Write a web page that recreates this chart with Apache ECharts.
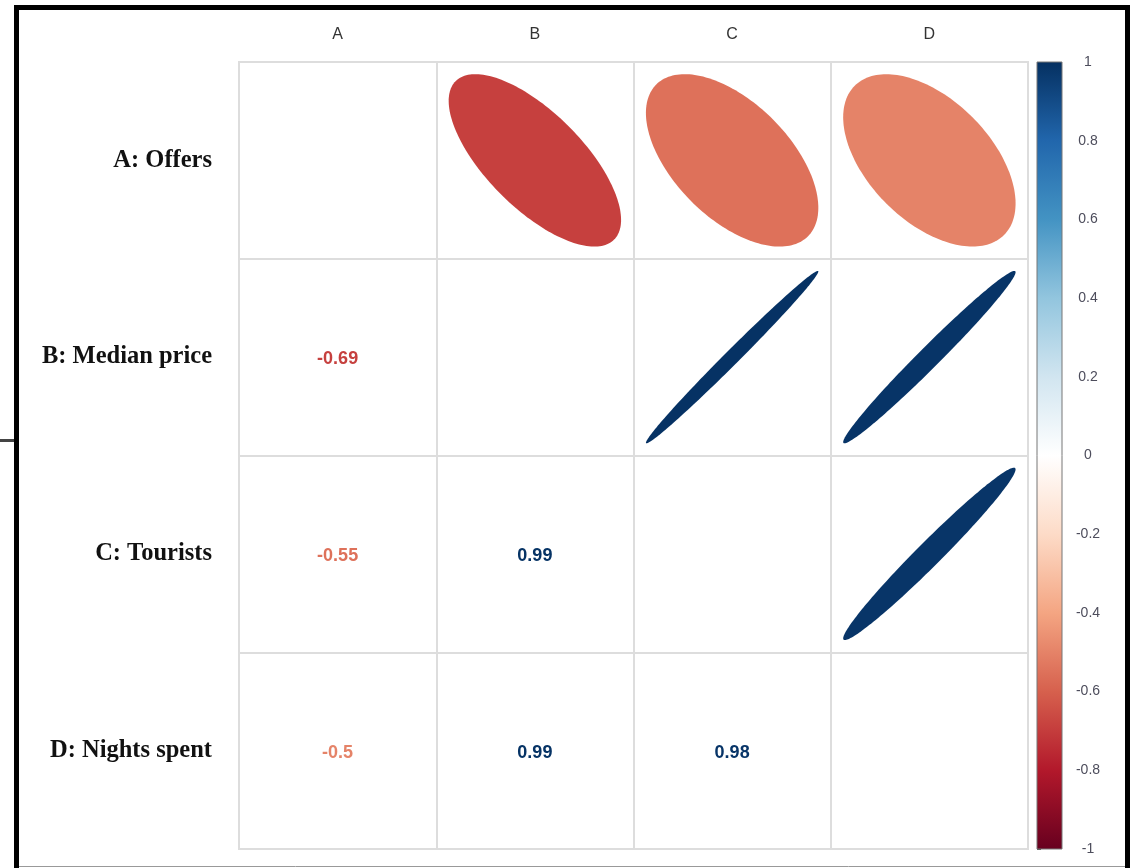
<!DOCTYPE html>
<html>
<head>
<meta charset="utf-8">
<title>Correlation matrix</title>
<script src="https://cdn.jsdelivr.net/npm/echarts@6/dist/echarts.min.js"></script>
<style>
  html, body { margin: 0; padding: 0; background: #fff; }
  #main { width: 1132px; height: 868px; }
</style>
</head>
<body>
<div id="main"></div>
<script>
// variables
const colLabels = ['A', 'B', 'C', 'D'];
const rowLabels = ['A: Offers', 'B: Median price', 'C: Tourists', 'D: Nights spent'];

// upper triangle: [col, row, r] drawn as ellipses
const ellipseCells = [
  [1, 0, -0.69], [2, 0, -0.55], [3, 0, -0.50],
  [2, 1, 0.993], [3, 1, 0.985],
  [3, 2, 0.98]
];
// lower triangle: [col, row, r] printed as numbers
const numberCells = [
  [0, 1, -0.69],
  [0, 2, -0.55], [1, 2, 0.99],
  [0, 3, -0.5], [1, 3, 0.99], [2, 3, 0.98]
];

// RdBu palette from -1 to 1
const rdbu = ['#67001F', '#B2182B', '#D6604D', '#F4A582', '#FDDBC7', '#FFFFFF',
              '#D1E5F0', '#92C5DE', '#4393C3', '#2166AC', '#053061'];
const colorbarRange = [[0, -1, 1]];

const chart = echarts.init(document.getElementById('main'));

function renderEllipse(params, api) {
  const c = api.coord([api.value(0), api.value(1)]);
  const size = api.size([1, 1]);
  const S = 0.437 * size[0];
  const r = api.value(2);
  const d = Math.acos(r);
  const pts = [];
  for (let i = 0; i < 180; i++) {
    const a = i / 180 * Math.PI * 2;
    pts.push([c[0] + S * Math.cos(a + d / 2), c[1] - S * Math.cos(a - d / 2)]);
  }
  return {
    type: 'polygon',
    shape: { points: pts },
    style: { fill: api.visual('color') }
  };
}

function renderNumber(params, api) {
  const c = api.coord([api.value(0), api.value(1)]);
  return {
    type: 'text',
    x: c[0],
    y: c[1] + 2,
    style: {
      text: String(numberCells[params.dataIndex][2]),
      fill: api.visual('color'),
      font: 'bold 18px "Liberation Sans", Arial, sans-serif',
      align: 'center',
      verticalAlign: 'middle'
    }
  };
}

function renderColorbar(params, api) {
  const p0 = api.coord([0, api.value(2)]);
  const p1 = api.coord([1, api.value(1)]);
  const stops = rdbu.slice().reverse().map((col, i) => ({ offset: i / (rdbu.length - 1), color: col }));
  return {
    type: 'rect',
    shape: { x: p0[0], y: p0[1], width: p1[0] - p0[0], height: p1[1] - p0[1] },
    style: {
      fill: new echarts.graphic.LinearGradient(0, 0, 0, 1, stops),
      stroke: '#777',
      lineWidth: 1
    }
  };
}

const option = {
  backgroundColor: '#fff',
  animation: false,
  grid: [
    { left: 239, top: 62, width: 789, height: 787, show: true, borderColor: '#ddd', borderWidth: 2 },
    { left: 1037, top: 62, width: 25, height: 787 }
  ],
  xAxis: [
    {
      gridIndex: 0,
      type: 'category',
      data: colLabels,
      position: 'top',
      axisLine: { show: false },
      axisTick: { show: false },
      axisLabel: { fontSize: 16, color: '#333', margin: 19, fontFamily: '"Liberation Sans", Arial' },
      splitLine: { show: true, lineStyle: { color: '#ddd', width: 2 } }
    },
    { gridIndex: 1, type: 'value', min: 0, max: 1, show: false }
  ],
  yAxis: [
    {
      gridIndex: 0,
      type: 'category',
      data: rowLabels,
      inverse: true,
      axisLine: { show: false },
      axisTick: { show: false },
      axisLabel: {
        fontSize: 24.5, fontWeight: 'bold', color: '#111', margin: 27,
        fontFamily: '"Liberation Serif", "Times New Roman", serif'
      },
      splitLine: { show: true, lineStyle: { color: '#ddd', width: 2 } }
    },
    {
      gridIndex: 1,
      type: 'value',
      min: -1,
      max: 1,
      interval: 0.2,
      position: 'right',
      axisLine: { show: false },
      axisTick: { show: true, length: 4, lineStyle: { color: '#555' } },
      axisLabel: { fontSize: 14, color: '#4d4d5c', align: 'center', margin: 26, fontFamily: '"Liberation Sans", Arial' },
      splitLine: { show: false }
    }
  ],
  visualMap: {
    type: 'continuous',
    show: false,
    min: -1,
    max: 1,
    dimension: 2,
    seriesIndex: [0, 1],
    inRange: { color: rdbu }
  },
  series: [
    {
      type: 'custom',
      xAxisIndex: 0, yAxisIndex: 0,
      renderItem: renderEllipse,
      data: ellipseCells
    },
    {
      type: 'custom',
      xAxisIndex: 0, yAxisIndex: 0,
      renderItem: renderNumber,
      data: numberCells
    },
    {
      type: 'custom',
      xAxisIndex: 1, yAxisIndex: 1,
      renderItem: renderColorbar,
      data: colorbarRange
    }
  ],
  graphic: [
    { type: 'line', shape: { x1: 16.5, y1: 5, x2: 16.5, y2: 868 }, style: { stroke: '#000', lineWidth: 5 } },
    { type: 'line', shape: { x1: 14, y1: 7.5, x2: 1130, y2: 7.5 }, style: { stroke: '#000', lineWidth: 5 } },
    { type: 'line', shape: { x1: 1127.5, y1: 5, x2: 1127.5, y2: 868 }, style: { stroke: '#000', lineWidth: 5 } },
    { type: 'line', shape: { x1: 19, y1: 866.5, x2: 1125, y2: 866.5 }, style: { stroke: '#999', lineWidth: 1 } },
    { type: 'line', shape: { x1: 0, y1: 440.5, x2: 14, y2: 440.5 }, style: { stroke: '#444', lineWidth: 3 } }
  ]
};

chart.setOption(option);
</script>
</body>
</html>
